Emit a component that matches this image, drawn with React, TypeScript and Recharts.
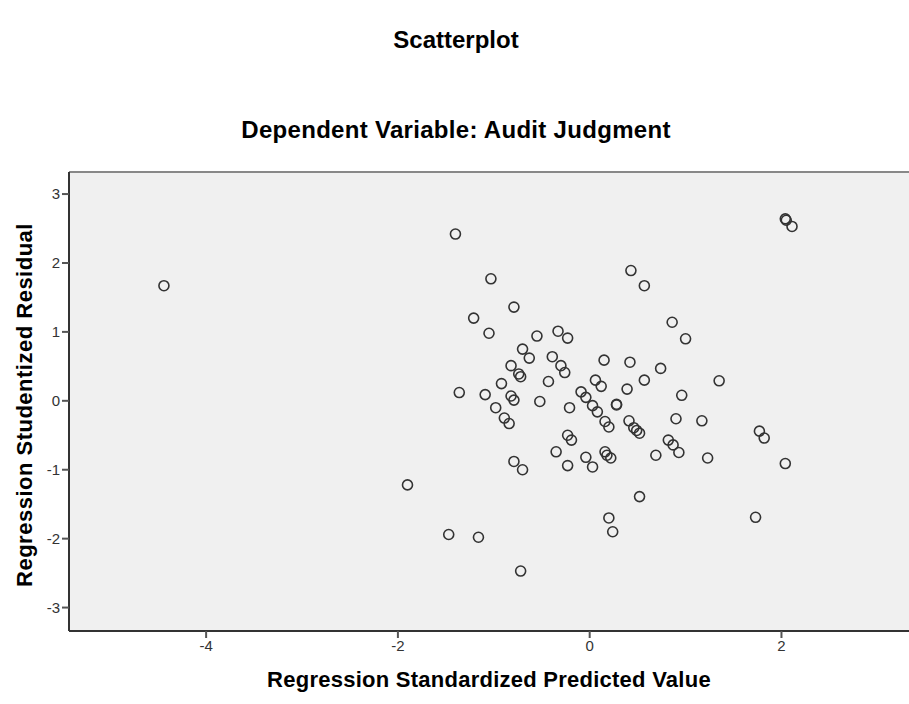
import React from "react";
import {
  ScatterChart,
  Scatter,
  XAxis,
  YAxis,
  CartesianGrid,
  ReferenceLine,
} from "recharts";

// Regression standardized predicted value (x) and studentized residual (y),
// read off the SPSS residual plot point by point.
const predicted = [
  -4.44, -1.4, -1.03, -0.79, -1.21, -1.05, -0.55, -0.33, -0.23, -0.7,
  -0.63, -0.39, -0.3, -0.26, -0.82, -0.74, -0.72, -0.43, -0.92, -1.36,
  -1.09, -0.82, -0.79, -0.52, -0.98, -0.89, -0.84, -0.21, -0.09, -0.04,
  0.06, 0.12, 0.03, 0.08, -0.23, -0.19, -0.35, -0.23, -0.04, 0.03,
  -0.79, -0.7, -1.9, -1.47, -1.16, -0.72, 0.43, 0.57, 0.86, 1.0,
  0.15, 0.42, 0.74, 0.57, 0.39, 1.35, 0.96, 0.28, 0.28, 0.16,
  0.2, 0.41, 0.46, 0.49, 0.52, 0.9, 1.17, 0.82, 0.87, 0.93,
  0.69, 1.23, 1.77, 1.82, 2.04, 0.16, 0.18, 0.22, 0.52, 0.2,
  0.24, 1.73, 2.04, 2.05, 2.11,
];

const residual = [
  1.67, 2.42, 1.77, 1.36, 1.2, 0.98, 0.94, 1.01, 0.91, 0.75,
  0.62, 0.64, 0.51, 0.41, 0.51, 0.39, 0.35, 0.28, 0.25, 0.12,
  0.09, 0.07, 0.01, -0.01, -0.1, -0.25, -0.33, -0.1, 0.13, 0.05,
  0.3, 0.21, -0.07, -0.16, -0.5, -0.57, -0.74, -0.94, -0.82, -0.96,
  -0.88, -1.0, -1.22, -1.94, -1.98, -2.47, 1.89, 1.67, 1.14, 0.9,
  0.59, 0.56, 0.47, 0.3, 0.17, 0.29, 0.08, -0.05, -0.06, -0.3,
  -0.38, -0.29, -0.39, -0.43, -0.47, -0.26, -0.29, -0.57, -0.64, -0.75,
  -0.79, -0.83, -0.44, -0.54, -0.91, -0.74, -0.79, -0.83, -1.39, -1.7,
  -1.9, -1.69, 2.64, 2.62, 2.53,
];

const xTicks = [-4, -2, 0, 2];
const yTicks = [-3, -2, -1, 0, 1, 2, 3];

const points = predicted.map((x, i) => ({ x, y: residual[i] }));

const FONT = '"Liberation Sans", Arial, sans-serif';

function Ring(props: { cx?: number; cy?: number }) {
  const { cx, cy } = props;
  if (cx == null || cy == null) return null;
  return <circle cx={cx} cy={cy} r={5} fill="none" stroke="#333" strokeWidth={1.6} />;
}

export default function App() {
  return (
    <div
      style={{
        position: "absolute",
        left: 0,
        top: 0,
        width: 909,
        height: 704,
        background: "#fff",
        fontFamily: FONT,
        overflow: "hidden",
      }}
    >
      <div
        style={{
          position: "absolute",
          left: 0,
          width: 912,
          top: 26,
          lineHeight: "28px",
          textAlign: "center",
          fontSize: 24,
          fontWeight: "bold",
          color: "#000",
        }}
      >
        Scatterplot
      </div>
      <div
        style={{
          position: "absolute",
          left: 0,
          width: 912,
          top: 116,
          lineHeight: "28px",
          textAlign: "center",
          fontSize: 24,
          fontWeight: "bold",
          letterSpacing: 0.3,
          color: "#000",
        }}
      >
        Dependent Variable: Audit Judgment
      </div>

      <ScatterChart
        width={909}
        height={704}
        margin={{ top: 172, right: 0, bottom: 0, left: 0 }}
        style={{ position: "absolute", left: 0, top: 0 }}
      >
        <CartesianGrid fill="#f0f0f0" horizontal={false} vertical={false} />
        <XAxis
          type="number"
          dataKey="x"
          domain={[-5.43, 3.33]}
          ticks={xTicks}
          height={73}
          tickSize={7}
          axisLine={{ stroke: "#333", strokeWidth: 2 }}
          tickLine={{ stroke: "#555", strokeWidth: 2 }}
          tick={{ fill: "#333", fontSize: 15, fontFamily: FONT }}
          allowDataOverflow
        />
        <YAxis
          type="number"
          dataKey="y"
          domain={[-3.34, 3.32]}
          ticks={yTicks}
          width={69}
          tickSize={7}
          axisLine={{ stroke: "#333", strokeWidth: 2 }}
          tickLine={{ stroke: "#555", strokeWidth: 2 }}
          tick={{ fill: "#333", fontSize: 15, fontFamily: FONT }}
          allowDataOverflow
        />
        <ReferenceLine y={3.32} stroke="#888" strokeWidth={2} />
        <Scatter data={points} shape={<Ring />} isAnimationActive={false} />
      </ScatterChart>

      <div
        style={{
          position: "absolute",
          left: 69,
          width: 840,
          top: 667,
          lineHeight: "26px",
          textAlign: "center",
          fontSize: 22,
          fontWeight: "bold",
          letterSpacing: 0.25,
          color: "#000",
        }}
      >
        Regression Standardized Predicted Value
      </div>
      <div
        style={{
          position: "absolute",
          left: 25 - 250,
          top: 405 - 13,
          width: 500,
          height: 26,
          lineHeight: "26px",
          textAlign: "center",
          transform: "rotate(-90deg)",
          fontSize: 22,
          fontWeight: "bold",
          letterSpacing: 0.5,
          color: "#000",
        }}
      >
        Regression Studentized Residual
      </div>
    </div>
  );
}
